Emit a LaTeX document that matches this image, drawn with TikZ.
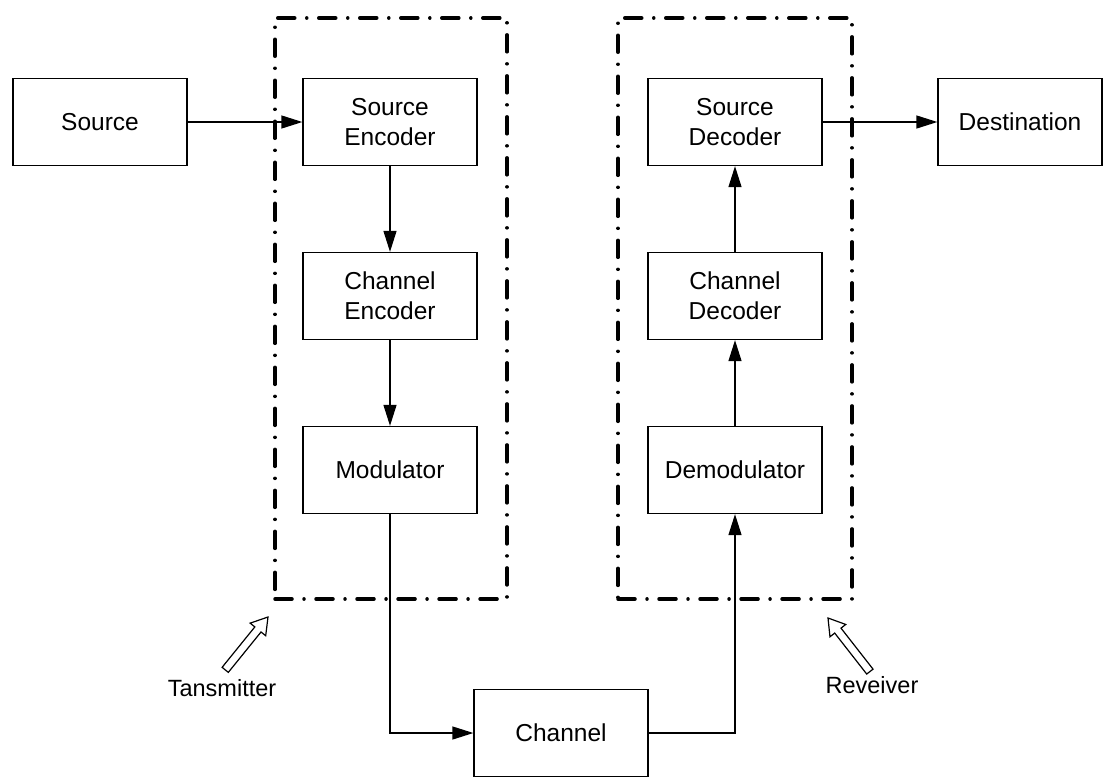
\documentclass[tikz,border=0pt]{standalone}
\usepackage{fontspec}
\setmainfont{Liberation Sans}
\usetikzlibrary{arrows.meta}
\begin{document}
\begin{tikzpicture}[x=1pt,y=-1pt,
 blk/.style={draw, line width=1.3pt, minimum width=174pt, minimum height=87pt, align=center, font=\fontsize{24.5}{30}\selectfont, inner sep=0pt},
 conn/.style={line width=1.3pt, -{Triangle[length=21pt,width=13pt]}},
 grp/.style={draw, line width=3.5pt, line cap=round, dash pattern=on 17pt off 12pt on 0.01pt off 12pt, inner sep=0pt},
 lbl/.style={font=\fontsize{23.5}{29}\selectfont, inner sep=0pt},
 hollow/.style={draw, line width=1.2pt, fill=white, line join=miter}]
\useasboundingbox (0,0) rectangle (1106,777);
% group boxes
\node[grp, minimum width=232pt, minimum height=581pt] (tx) at (391,308.5) {};
\node[grp, minimum width=234pt, minimum height=581pt] (rx) at (735,308.5) {};
% blocks
\node[blk] (src) at (100,122) {Source};
\node[blk] (senc) at (390,122) {Source\\Encoder};
\node[blk] (cenc) at (390,296) {Channel\\Encoder};
\node[blk] (mod) at (390,470) {Modulator};
\node[blk] (ch) at (561,733) {Channel};
\node[blk] (demod) at (735,470) {Demodulator};
\node[blk] (cdec) at (735,296) {Channel\\Decoder};
\node[blk] (sdec) at (735,122) {Source\\Decoder};
\node[blk, minimum width=164pt] (dst) at (1020,122) {Destination};
% connectors
\draw[conn] (src) -- (senc);
\draw[conn] (senc) -- (cenc);
\draw[conn] (cenc) -- (mod);
\draw[conn] (mod.south) |- (ch.west);
\draw[conn] (ch.east) -| (demod.south);
\draw[conn] (demod) -- (cdec);
\draw[conn] (cdec) -- (sdec);
\draw[conn] (sdec) -- (dst);
% hollow arrows
\begin{scope}[shift={(268,617)}, rotate=51]
\path[hollow] (-68,-4) -- (-16,-4) -- (-16,-10) -- (0,0) -- (-16,10) -- (-16,4) -- (-68,4) -- cycle;
\end{scope}
\begin{scope}[shift={(828,618)}, rotate=128]
\path[hollow] (-68,-4) -- (-16,-4) -- (-16,-10) -- (0,0) -- (-16,10) -- (-16,4) -- (-68,4) -- cycle;
\end{scope}
% labels
\node[lbl] (txl) at (222,688) {Tansmitter};
\node[lbl] (rxl) at (872,685) {Reveiver};
\end{tikzpicture}
\end{document}
